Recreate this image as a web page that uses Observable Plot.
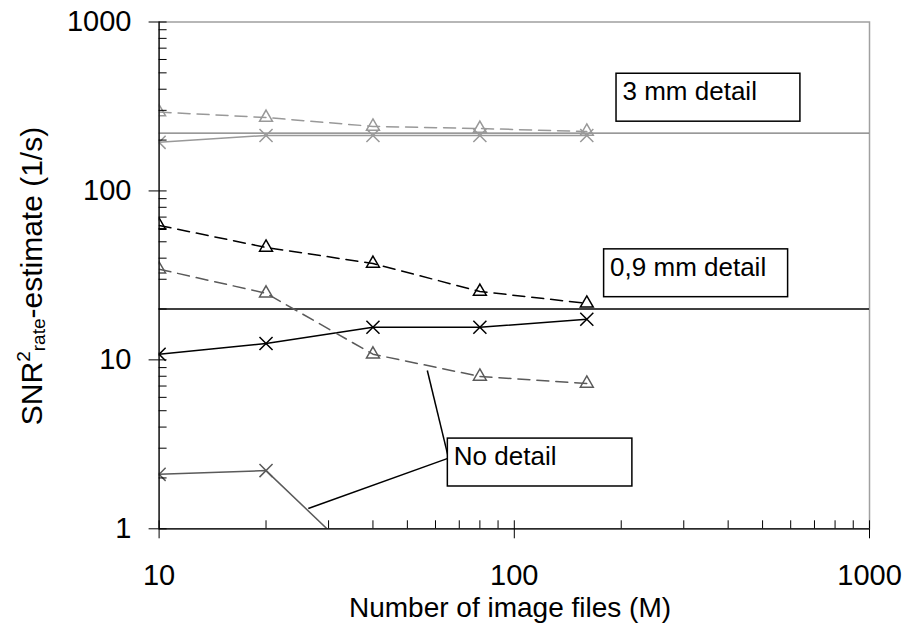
<!DOCTYPE html>
<html><head><meta charset="utf-8">
<script src="https://cdn.jsdelivr.net/npm/d3@7"></script>
<script src="https://cdn.jsdelivr.net/npm/@observablehq/plot@0.6"></script>
<style>body{margin:0;background:#fff;} svg{display:block;}</style>
</head><body><div id="chart"></div>
<script>
// ---- data ----
const nFiles = [10, 20, 40, 80, 160];
const snr3mmTriangle = [293, 272, 241, 234, 225];
const snr3mmCross = [194, 213, 213, 213, 213];
const snr09Triangle = [62.5, 46.3, 37.2, 25.4, 21.6];
const snr09Cross = [10.8, 12.5, 15.6, 15.6, 17.4];
const snrNoTriangle = [34.4, 24.8, 10.8, 7.98, 7.25];
const snrNoCross = [2.10, 2.21, 0.55];
const referenceLevels = [220, 20];
const xMajorTicks = [10, 100, 1000];
const xMinorTicks = [20, 30, 40, 50, 60, 70, 80, 90, 200, 300, 400, 500, 600, 700, 800, 900];
const yMajorTicks = [1, 10, 100, 1000];
const yMinorTicks = [2, 3, 4, 5, 6, 7, 8, 9, 20, 30, 40, 50, 60, 70, 80, 90, 200, 300, 400, 500, 600, 700, 800, 900];
const annotationLabels = ["3 mm detail", "0,9 mm detail", "No detail"];
const boxX1 = [194, 179, 65];
const boxX2 = [639, 590, 215];
const boxTop = [494, 45.1, 3.42];
const boxBottom = [257, 23.5, 1.78];
const leaderFromX = [65, 65];
const leaderFromY = [2.61, 2.72];
const leaderToX = [26.3, 56.9];
const leaderToY = [1.32, 8.65];
const xTitle = "Number of image files (M)";

// ---- build tables ----
const rows = (ys) => ys.map((v, i) => ({n: nFiles[i], v}));
const boxes = annotationLabels.map((label, i) => ({label, x1: boxX1[i], x2: boxX2[i], top: boxTop[i], bottom: boxBottom[i]}));
const leaders = leaderFromX.map((x, i) => ({x1: x, y1: leaderFromY[i], x2: leaderToX[i], y2: leaderToY[i]}));

const W = 906, H = 632;
const mL = 158.6, mR = 37, mT = 21.5, mB = 103.7;
const plotW = W - mL - mR, plotH = H - mT - mB;
const FONT = "'Liberation Sans', Arial, sans-serif";

function series(data, {stroke, dashed, symbol}) {
  const d = rows(data);
  return [
    Plot.line(d, {x: "n", y: "v", stroke, strokeWidth: 1.5, strokeDasharray: dashed ? "12,7" : null, clip: true}),
    Plot.dot(d, {x: "n", y: "v", symbol, r: symbol === "triangle" ? 4.8 : 6, stroke, strokeWidth: 1.5, fill: "none", clip: true})
  ];
}

const chart = Plot.plot({
  width: W, height: H,
  marginLeft: mL, marginRight: mR, marginTop: mT, marginBottom: mB,
  style: {fontFamily: FONT, fontSize: "29px", color: "black", background: "white", overflow: "visible"},
  x: {type: "log", domain: [10, 1000]},
  y: {type: "log", domain: [1, 1000]},
  marks: [
    Plot.frame({stroke: "#a0a0a0", strokeWidth: 1.5}),
    Plot.ruleY(referenceLevels.slice(0, 1), {stroke: "#777", strokeWidth: 1.2}),
    Plot.ruleY(referenceLevels.slice(1, 2), {stroke: "black", strokeWidth: 1.6}),
    ...series(snr3mmTriangle, {stroke: "#999", dashed: true, symbol: "triangle"}),
    ...series(snr3mmCross, {stroke: "#999", dashed: false, symbol: "times"}),
    ...series(snr09Triangle, {stroke: "black", dashed: true, symbol: "triangle"}),
    ...series(snr09Cross, {stroke: "black", dashed: false, symbol: "times"}),
    ...series(snrNoTriangle, {stroke: "#5a5a5a", dashed: true, symbol: "triangle"}),
    ...series(snrNoCross, {stroke: "#5a5a5a", dashed: false, symbol: "times"}),
    Plot.link(leaders, {x1: "x1", y1: "y1", x2: "x2", y2: "y2", stroke: "black", strokeWidth: 1.5}),
    Plot.rect(boxes, {x1: "x1", x2: "x2", y1: "bottom", y2: "top", fill: "white", stroke: "black", strokeWidth: 1.5}),
    Plot.text(boxes, {x: "x1", y: "top", text: "label", textAnchor: "start", lineAnchor: "top", dx: 6, dy: 8, fontSize: 26, fill: "black"}),
    Plot.tickX(xMajorTicks.concat(xMinorTicks), {x: d => d, insetTop: plotH - 8, stroke: "black"}),
    Plot.tickY(yMajorTicks.concat(yMinorTicks), {y: d => d, insetRight: plotW - 8, stroke: "black"}),
    Plot.ruleY([1], {stroke: "black", strokeWidth: 1.2}),
    Plot.ruleX([10], {stroke: "black", strokeWidth: 1.2}),
    Plot.axisX(xMajorTicks, {tickSize: 10, tickPadding: 26, tickFormat: d => String(d), label: null, fontSize: 29}),
    Plot.axisY(yMajorTicks, {tickSize: 10, tickPadding: 17.6, tickFormat: d => String(d), label: null, fontSize: 29})
  ]
});

document.getElementById("chart").appendChild(chart);

// axis titles as real text
const svg = d3.select(chart);
svg.append("text")
  .attr("x", 510).attr("y", 617)
  .attr("text-anchor", "middle")
  .attr("font-family", FONT).attr("font-size", 28)
  .attr("fill", "black")
  .text(xTitle);

const yt = svg.append("text")
  .attr("transform", "translate(42,276) rotate(-90)")
  .attr("text-anchor", "middle")
  .attr("font-family", FONT).attr("font-size", 30)
  .attr("fill", "black");
yt.append("tspan").text("SNR");
yt.append("tspan").attr("font-size", 19).attr("dy", -12).text("2");
yt.append("tspan").attr("font-size", 19).attr("dy", 15).text("rate");
yt.append("tspan").attr("dy", -3).text("-estimate (1/s)");
</script>
</body></html>
